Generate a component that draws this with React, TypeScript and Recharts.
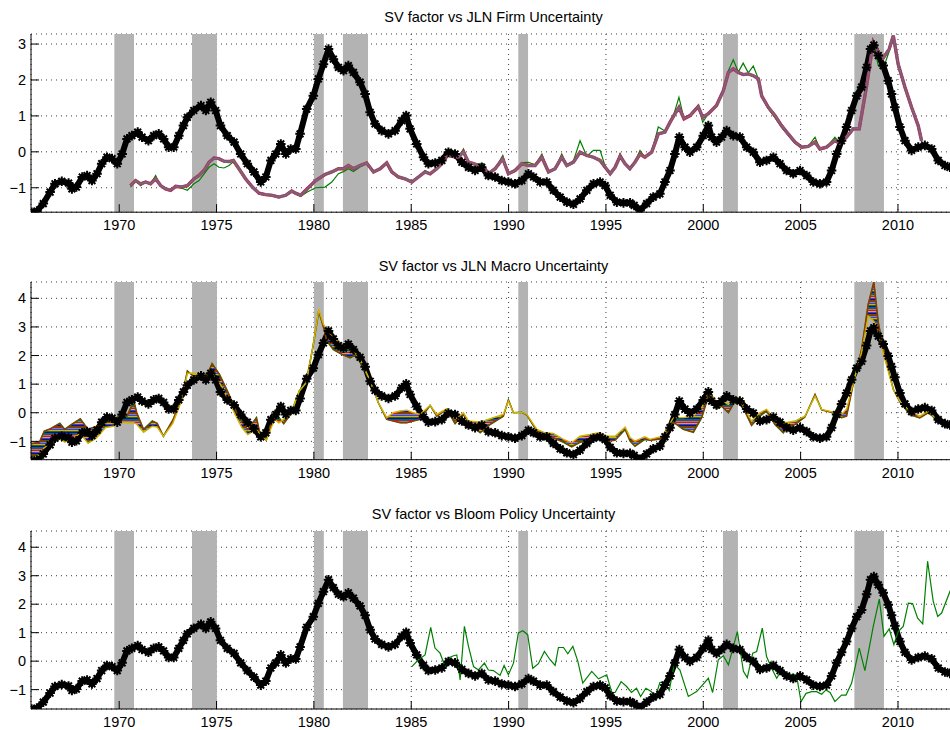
import React from 'react';
import { ComposedChart, Line, Area, XAxis, YAxis, CartesianGrid, ReferenceArea } from 'recharts';

const yearTicks = [1970, 1975, 1980, 1985, 1990, 1995, 2000, 2005, 2010];
const recessionStarts = [1969.75, 1973.74, 1980.0, 1981.49, 1990.5, 2001.01, 2007.76];
const recessionEnds = [1970.76, 1975.02, 1980.51, 1982.78, 1991.0, 2001.78, 2009.28];

// SV factor (shared by all three panels)
const svYears = [
  1965.5, 1965.77, 1966.1, 1966.45, 1966.7, 1967.05, 1967.4, 1967.57, 1967.8, 1968.1, 1968.35, 1968.6, 1968.86,
  1969.1, 1969.37, 1969.63, 1969.9, 1970.15, 1970.4, 1970.65, 1970.95, 1971.17, 1971.5, 1971.77, 1972.03, 1972.28,
  1972.54, 1972.8, 1973.06, 1973.3, 1973.5, 1973.83, 1974.2, 1974.45, 1974.7, 1974.95, 1975.2, 1975.55, 1975.9,
  1976.24, 1976.58, 1976.92, 1977.27, 1977.53, 1977.79, 1978.04, 1978.3, 1978.56, 1978.81, 1979.07, 1979.29,
  1979.63, 1979.97, 1980.23, 1980.49, 1980.75, 1981.0, 1981.26, 1981.52, 1981.77, 1982.03, 1982.37, 1982.63,
  1982.89, 1983.14, 1983.48, 1983.83, 1984.17, 1984.51, 1984.74, 1984.94, 1985.28, 1985.63, 1985.88, 1986.23,
  1986.57, 1986.91, 1987.25, 1987.6, 1987.94, 1988.28, 1988.62, 1988.96, 1989.31, 1989.65, 1989.99, 1990.33,
  1990.68, 1991.02, 1991.28, 1991.62, 1991.96, 1992.3, 1992.65, 1992.99, 1993.33, 1993.67, 1994.02, 1994.36,
  1994.7, 1994.96, 1995.22, 1995.56, 1995.9, 1996.24, 1996.45, 1996.75, 1997.09, 1997.43, 1997.77, 1998.03,
  1998.29, 1998.54, 1998.77, 1999.06, 1999.31, 1999.66, 2000.0, 2000.26, 2000.43, 2000.68, 2000.94, 2001.2,
  2001.54, 2001.88, 2002.23, 2002.57, 2002.91, 2003.25, 2003.6, 2003.94, 2004.28, 2004.62, 2004.97, 2005.31,
  2005.65, 2005.99, 2006.33, 2006.59, 2006.85, 2007.1, 2007.36, 2007.62, 2007.88, 2008.13, 2008.39, 2008.59,
  2008.76, 2008.99, 2009.24, 2009.5, 2009.67, 2009.84, 2010.1, 2010.36, 2010.7, 2011.04, 2011.38, 2011.73,
  2012.07, 2012.41, 2012.67, 2012.95,
];
const svValues = [
  -1.68, -1.65, -1.44, -1.12, -0.89, -0.82, -0.87, -1.03, -0.98, -0.7, -0.66, -0.8, -0.61,
  -0.33, -0.15, -0.19, -0.33, -0.06, 0.36, 0.45, 0.55, 0.41, 0.31, 0.45, 0.5, 0.36,
  0.13, 0.13, 0.45, 0.73, 0.96, 1.15, 1.29, 1.15, 1.38, 1.15, 0.73, 0.45, 0.27,
  -0.06, -0.33, -0.56, -0.84, -0.7, -0.24, -0.06, 0.22, -0.06, 0.08, 0.08, 0.5,
  1.19, 1.56, 2.03, 2.44, 2.86, 2.58, 2.35, 2.26, 2.4, 2.21, 1.94, 1.61,
  1.1, 0.78, 0.59, 0.5, 0.59, 0.87, 1.01, 0.64, 0.22, -0.15, -0.33, -0.31,
  -0.24, -0.01, -0.06, -0.29, -0.43, -0.52, -0.43, -0.66, -0.7, -0.8, -0.84, -0.89,
  -0.8, -0.61, -0.7, -0.84, -0.84, -1.07, -1.26, -1.4, -1.46, -1.31, -1.07, -0.89,
  -0.84, -0.94, -1.21, -1.4, -1.42, -1.42, -1.49, -1.63, -1.44, -1.26, -1.17, -0.84,
  -0.52, -0.06, 0.41, 0.13, -0.01, 0.13, 0.45, 0.73, 0.41, 0.27, 0.41, 0.59,
  0.45, 0.41, 0.13, -0.01, -0.29, -0.24, -0.15, -0.33, -0.52, -0.61, -0.52, -0.66,
  -0.84, -0.89, -0.84, -0.52, -0.06, 0.31, 0.69, 1.15, 1.56, 1.8, 2.35, 2.86,
  2.97, 2.68, 2.4, 1.98, 1.61, 1.24, 0.69, 0.31, 0.04, 0.13, 0.18, 0.08,
  -0.24, -0.38, -0.43, -0.45,
];

// JLN firm uncertainty: bundle of horizons, and the h=1 (green) line
const firmYears = [
  1970.58, 1970.84, 1971.1, 1971.36, 1971.61, 1971.87, 1972.13, 1972.38, 1972.64, 1972.9, 1973.15, 1973.5,
  1973.84, 1974.1, 1974.35, 1974.61, 1974.87, 1975.12, 1975.38, 1975.64, 1975.86, 1976.15, 1976.49, 1976.84,
  1977.18, 1977.52, 1977.86, 1978.2, 1978.55, 1978.86, 1979.06, 1979.32, 1979.66, 1980.09, 1980.57, 1980.92,
  1981.26, 1981.52, 1981.77, 1982.03, 1982.37, 1982.71, 1983.06, 1983.4, 1983.74, 1984.0, 1984.34, 1984.68,
  1985.03, 1985.37, 1985.71, 1985.97, 1986.31, 1986.57, 1986.83, 1987.17, 1987.43, 1987.68, 1987.94, 1988.2,
  1988.71, 1988.96, 1989.31, 1989.7, 1989.99, 1990.33, 1990.68, 1991.02, 1991.36, 1991.71, 1992.05, 1992.39,
  1992.73, 1992.99, 1993.33, 1993.67, 1994.02, 1994.36, 1994.7, 1994.96, 1995.22, 1995.47, 1995.73, 1995.98,
  1996.23, 1996.49, 1996.75, 1997.0, 1997.35, 1997.69, 1998.03, 1998.29, 1998.49, 1998.75, 1999.01, 1999.32,
  1999.74, 1999.97, 2000.26, 2000.68, 2001.03, 2001.29, 2001.54, 2001.8, 2002.05, 2002.31, 2002.57, 2002.83,
  2003.0, 2003.34, 2003.68, 2004.02, 2004.36, 2004.71, 2005.05, 2005.39, 2005.74, 2005.99, 2006.33, 2006.76,
  2007.02, 2007.36, 2007.7, 2008.01, 2008.39, 2008.73, 2008.99, 2009.24, 2009.55, 2009.76, 2010.01, 2010.36,
  2010.7, 2011.04, 2011.21,
];
const firmBundle = [
  -0.94, -0.8, -0.89, -0.84, -0.89, -0.75, -0.94, -1.03, -1.07, -0.96, -0.98, -0.94,
  -0.75, -0.66, -0.52, -0.29, -0.17, -0.19, -0.26, -0.27, -0.24, -0.47, -0.75, -0.98,
  -1.15, -1.19, -1.21, -1.26, -1.21, -1.09, -1.15, -1.21, -1.03, -0.8, -0.63, -0.56,
  -0.47, -0.47, -0.38, -0.47, -0.38, -0.31, -0.56, -0.47, -0.31, -0.56, -0.7, -0.75,
  -0.84, -0.7, -0.56, -0.61, -0.47, -0.33, -0.1, -0.13, -0.15, 0.0, -0.29, -0.33,
  -0.43, -0.61, -0.47, -0.19, -0.61, -0.52, -0.33, -0.38, -0.38, -0.15, -0.56, -0.47,
  -0.15, -0.38, -0.29, -0.01, -0.1, -0.15, -0.24, -0.43, -0.61, -0.43, -0.12, -0.33,
  -0.47, -0.29, -0.06, -0.15, -0.01, 0.5, 0.55, 0.82, 1.01, 1.24, 0.92, 1.01,
  1.26, 0.96, 1.06, 1.29, 1.7, 2.21, 2.31, 2.21, 2.15, 2.17, 2.12, 2.03,
  1.56, 1.24, 1.01, 0.73, 0.5, 0.27, 0.13, 0.15, 0.27, 0.08, 0.13, 0.31,
  0.24, 0.41, 0.64, 0.64, 1.84, 3.05, 2.77, 2.61, 2.86, 3.23, 2.44, 1.8,
  1.24, 0.73, 0.31,
];
const firmGreen = [
  -0.98, -0.8, -0.94, -0.84, -0.89, -0.66, -0.96, -1.03, -1.07, -0.96, -1.0, -1.07,
  -0.89, -0.8, -0.62, -0.43, -0.33, -0.43, -0.45, -0.38, -0.28, -0.5, -0.78, -1.0,
  -1.17, -1.21, -1.21, -1.26, -1.21, -1.12, -1.17, -1.24, -1.12, -1.0, -0.98, -0.84,
  -0.61, -0.55, -0.47, -0.55, -0.42, -0.33, -0.58, -0.48, -0.31, -0.58, -0.72, -0.77,
  -0.86, -0.7, -0.52, -0.61, -0.47, -0.33, -0.08, -0.12, -0.15, 0.08, -0.29, -0.35,
  -0.33, -0.63, -0.47, -0.1, -0.63, -0.52, -0.3, -0.29, -0.36, -0.06, -0.56, -0.47,
  -0.06, -0.36, -0.25, 0.31, -0.12, 0.04, 0.04, -0.4, -0.61, -0.43, -0.05, -0.33,
  -0.47, -0.29, 0.04, -0.15, 0.0, 0.69, 0.58, 0.85, 1.05, 1.52, 0.92, 1.03,
  1.3, 0.82, 1.06, 1.29, 1.72, 2.26, 2.56, 2.22, 2.47, 2.2, 2.39, 2.03,
  1.56, 1.2, 0.95, 0.68, 0.46, 0.24, 0.12, 0.15, 0.41, 0.08, 0.13, 0.41,
  0.24, 0.43, 0.66, 0.64, 1.84, 3.0, 2.4, 2.31, 2.8, 3.2, 2.35, 1.75,
  1.22, 0.68, 0.27,
];

// JLN macro uncertainty: h=1 and h=12 edges of the horizon fan
const macroYears = [
  1965.47, 1965.9, 1966.15, 1966.4, 1966.95, 1967.2, 1967.55, 1968.0, 1968.4, 1968.85, 1969.3, 1969.7,
  1970.05, 1970.4, 1970.75, 1970.9, 1971.25, 1971.7, 1971.95, 1972.27, 1972.75, 1973.2, 1973.5, 1973.85,
  1974.2, 1974.55, 1974.77, 1975.15, 1975.6, 1975.95, 1976.3, 1976.6, 1977.05, 1977.2, 1977.55, 1977.98,
  1978.2, 1978.45, 1978.8, 1979.25, 1979.6, 1979.95, 1980.25, 1980.49, 1980.66, 1981.0, 1981.43, 1981.86,
  1982.12, 1982.46, 1982.89, 1983.31, 1983.74, 1984.08, 1984.43, 1984.77, 1985.11, 1985.45, 1985.97, 1986.31,
  1986.83, 1987.25, 1987.68, 1987.94, 1988.54, 1989.05, 1989.73, 1989.99, 1990.25, 1990.68, 1990.94, 1991.45,
  1991.88, 1992.3, 1992.82, 1993.24, 1993.67, 1994.19, 1994.62, 1995.04, 1995.47, 1995.99, 1996.24, 1996.49,
  1997.0, 1997.26, 1997.94, 1998.46, 1998.97, 1999.49, 1999.92, 2000.26, 2000.68, 2000.94, 2001.29, 2001.63,
  2001.88, 2002.14, 2002.48, 2002.91, 2003.25, 2003.68, 2004.11, 2004.36, 2004.71, 2005.22, 2005.74, 2006.08,
  2006.67, 2007.1, 2007.36, 2007.7, 2008.13, 2008.47, 2008.76, 2008.99, 2009.33, 2009.76, 2010.1, 2010.61,
  2011.12, 2011.55, 2011.89,
];
const macroH1 = [
  -1.08, -1.03, -0.64, -0.58, -0.37, -0.58, -0.41, -0.21, -0.58, -0.47, -0.33, -0.29,
  -0.06, -0.12, 0.41, 0.0, -0.58, -0.29, -0.37, -0.82, -0.26, 0.47, 1.46, 1.25,
  1.28, 1.38, 1.72, 1.34, 0.7, 0.12, -0.29, -0.58, -0.17, -0.64, -0.96, 0.06,
  -0.17, -0.38, -0.06, 0.76, 1.05, 2.3, 3.55, 3.0, 2.51, 2.21, 2.04, 1.92,
  2.02, 1.69, 1.11, 0.35, -0.23, -0.29, -0.35, -0.35, -0.29, -0.23, 0.26, -0.12,
  0.12, -0.38, -0.06, -0.35, -0.7, -0.41, -0.12, 0.45, 0.0, 0.02, -0.08, -0.64,
  -0.79, -0.87, -1.03, -1.19, -1.03, -0.96, -0.91, -0.99, -0.96, -0.58, -0.99, -1.17,
  -0.93, -0.96, -0.91, -0.33, -0.58, -0.68, -0.17, 0.58, 0.14, 0.23, 0.0, 0.41,
  0.48, 0.05, -0.44, -0.12, 0.06, -0.41, -0.7, -0.47, -0.41, -0.15, 0.64, 0.1,
  0.0, -0.17, -0.12, 1.0, 2.21, 3.79, 4.57, 3.15, 1.98, 0.82, 0.38, -0.06,
  -0.18, 0.0, -0.17,
];
const macroH12 = [
  -1.62, -1.46, -1.22, -1.11, -0.91, -1.03, -0.91, -0.73, -1.07, -0.87, -0.52, -0.47,
  -0.33, -0.35, -0.35, -0.4, -0.68, -0.47, -0.5, -0.82, -0.37, 0.41, 1.38, 1.38,
  1.22, 1.3, 1.38, 1.05, 0.47, -0.06, -0.52, -0.76, -0.58, -0.72, -0.96, -0.23,
  -0.35, -0.23, -0.06, 0.76, 1.05, 2.3, 3.61, 3.09, 2.91, 2.62, 2.39, 2.21,
  2.1, 1.75, 1.11, 0.35, -0.17, 0.0, 0.06, 0.09, 0.0, -0.06, 0.26, -0.06,
  0.14, -0.23, 0.0, -0.29, -0.33, -0.21, -0.06, 0.41, 0.0, 0.02, -0.06, -0.58,
  -0.7, -0.72, -0.93, -1.05, -0.82, -0.76, -0.7, -0.82, -0.82, -0.5, -0.87, -0.99,
  -0.84, -0.93, -0.82, -0.17, -0.17, -0.12, 0.17, 0.7, 0.41, 0.41, 0.29, 0.52,
  0.52, 0.12, -0.29, 0.0, 0.12, -0.23, -0.35, -0.33, -0.29, -0.12, 0.58, 0.12,
  0.02, -0.06, 0.12, 1.05, 2.1, 3.38, 3.2, 2.8, 1.86, 0.82, 0.41, 0.06,
  -0.12, 0.06, -0.17,
];

// Bloom policy uncertainty
const bloomYears = [
  1985.03, 1985.37, 1985.71, 1986.0, 1986.22, 1986.48, 1986.74, 1986.91, 1987.17, 1987.34, 1987.51, 1987.73,
  1987.94, 1988.2, 1988.45, 1988.76, 1988.96, 1989.22, 1989.56, 1989.77, 1989.99, 1990.25, 1990.5, 1990.73,
  1990.98, 1991.24, 1991.53, 1991.84, 1992.13, 1992.39, 1992.56, 1992.82, 1993.04, 1993.3, 1993.55, 1993.81,
  1994.27, 1994.62, 1995.04, 1995.3, 1995.47, 1995.78, 1996.06, 1996.31, 1996.57, 1996.78, 1997.05, 1997.34,
  1997.5, 1997.77, 1998.03, 1998.25, 1998.51, 1998.8, 1999.23, 1999.66, 2000.26, 2000.48, 2000.77, 2001.03,
  2001.29, 2001.75, 2002.06, 2002.26, 2002.54, 2002.74, 2003.03, 2003.25, 2003.51, 2003.77, 2003.99, 2004.28,
  2004.62, 2004.8, 2005.02, 2005.28, 2005.57, 2005.82, 2006.08, 2006.3, 2006.51, 2006.76, 2007.1, 2007.33,
  2007.62, 2008.01, 2008.3, 2008.73, 2009.04, 2009.28, 2009.55, 2009.79, 2010.01, 2010.27, 2010.53, 2010.75,
  2011.01, 2011.27, 2011.52, 2011.81, 2012.04, 2012.24, 2012.67, 2012.95,
];
const bloomValues = [
  -0.19, 0.05, 0.22, 1.19, 0.46, 0.28, -0.19, 0.11, 0.19, 0.22, -0.66, 1.22,
  0.52, -0.19, -0.31, -0.07, -0.31, -0.33, -0.5, -0.15, -0.48, -0.07, 0.99, 1.07,
  0.93, -0.25, -0.09, 0.34, 0.05, -0.15, 0.48, 0.48, 0.26, 0.52, 0.01, -0.77,
  -0.36, -0.62, -0.48, -1.1, -1.1, -0.72, -0.89, -1.1, -0.95, -1.24, -0.95, -1.07,
  -1.34, -0.75, -0.72, -1.03, -0.11, -0.31, -1.24, -1.07, -0.6, -1.1, 0.05, 0.19,
  -0.13, 1.04, -0.36, -0.58, 0.28, 0.34, 1.16, 0.16, -0.25, -0.6, -0.34, -0.52,
  -0.45, -0.54, -1.42, -1.13, -1.07, -1.07, -1.16, -1.01, -1.1, -1.42, -1.19, -1.19,
  -0.77, 0.46, -0.33, 1.22, 2.18, 0.87, 1.13, 0.58, 1.04, 1.22, 2.04, 2.02,
  1.51, 1.31, 3.51, 2.1, 1.57, 1.69, 2.45, 2.8,
];

const svData = svYears.map((year, i) => ({ year, sv: svValues[i] }));
const firmData = firmYears.map((year, i) => ({ year, bundle: firmBundle[i], green: firmGreen[i] }));
const macroData = macroYears.map((year, i) => ({
  year,
  h1: macroH1[i],
  h12: macroH12[i],
  fan: [macroH12[i], macroH1[i]],
}));
const bloomData = bloomYears.map((year, i) => ({ year, bloom: bloomValues[i] }));

const FONT = '"Liberation Sans", Arial, Helvetica, sans-serif';
const X_DOMAIN = [1965.47, 2013.0];
const CHART_W = 960;
// horizon colours, top to bottom of the macro fan
const fanColors = ['#008000', '#ff0000', '#00bfbf', '#bf00bf', '#bfbf00', '#505050', '#0000ff'];

const fmtY = (v: number) => (v < 0 ? `\u2212${Math.abs(v)}` : `${v}`);

const StarDot = (props: any) => {
  const { cx, cy, index } = props;
  if (cx == null || cy == null) return <g key={`s-${index}`} />;
  const r = 4.8;
  const d = r * 0.7071;
  return (
    <path
      key={`s-${index}`}
      d={`M${cx - r},${cy}H${cx + r}M${cx},${cy - r}V${cy + r}M${cx - d},${cy - d}L${cx + d},${cy + d}M${cx - d},${cy + d}L${cx + d},${cy - d}`}
      stroke="#000"
      strokeWidth={2}
      fill="none"
    />
  );
};

interface PanelProps {
  plotTop: number;
  plotHeight: number;
  titleY: number;
  title: string;
  yDomain: number[];
  yTicks: number[];
  children: React.ReactNode;
}

function Panel({ plotTop, plotHeight, titleY, title, yDomain, yTicks, children }: PanelProps) {
  const mTop = 10;
  const axisH = 30;
  return (
    <>
      <div
        style={{
          position: 'absolute',
          left: 31,
          width: 925,
          top: titleY - 8,
          height: 16,
          lineHeight: '16px',
          textAlign: 'center',
          fontSize: 14.5,
          color: '#000',
        }}
      >
        {title}
      </div>
      <div style={{ position: 'absolute', left: 0, top: plotTop - mTop }}>
        <ComposedChart
          width={CHART_W}
          height={mTop + plotHeight + axisH}
          margin={{ top: mTop, right: 3.6, bottom: 0, left: 0 }}
        >
          <defs>
            <pattern id={`fan-${Math.round(plotTop)}`} patternUnits="userSpaceOnUse" width={8} height={fanColors.length}>
              {fanColors.map((c, i) => (
                <rect key={c} x={0} y={i} width={8} height={1} fill={c} />
              ))}
            </pattern>
          </defs>
          <CartesianGrid stroke="#3a3a3a" strokeDasharray="1 4" />
          {recessionStarts.map((s, i) => (
            <ReferenceArea
              key={s}
              x1={s}
              x2={recessionEnds[i]}
              fill="#b3b3b3"
              fillOpacity={1}
              stroke="none"
              ifOverflow="hidden"
            />
          ))}
          <XAxis
            dataKey="year"
            type="number"
            domain={X_DOMAIN}
            ticks={yearTicks}
            allowDataOverflow
            height={axisH}
            tickSize={-8}
            tickMargin={16}
            axisLine={{ stroke: '#000' }}
            tickLine={{ stroke: '#000' }}
            tick={{ fill: '#000', fontSize: 14.5, fontFamily: FONT }}
          />
          <XAxis
            xAxisId="top"
            orientation="top"
            type="number"
            domain={X_DOMAIN}
            ticks={yearTicks}
            allowDataOverflow
            height={0}
            tickSize={-8}
            tickFormatter={() => ''}
            axisLine={{ stroke: '#000' }}
            tickLine={{ stroke: '#000' }}
          />
          <YAxis
            type="number"
            domain={yDomain}
            ticks={yTicks}
            allowDataOverflow
            width={31}
            tickSize={-8}
            tickMargin={13}
            tickFormatter={fmtY}
            axisLine={{ stroke: '#000' }}
            tickLine={{ stroke: '#000' }}
            tick={{ fill: '#000', fontSize: 14.5, fontFamily: FONT }}
          />
          <Line
            data={svData}
            dataKey="sv"
            type="linear"
            stroke="#000"
            strokeWidth={6}
            strokeLinejoin="round"
            dot={StarDot}
            activeDot={false}
            isAnimationActive={false}
          />
          {children}
        </ComposedChart>
      </div>
    </>
  );
}

export default function App() {
  return (
    <div
      style={{
        position: 'fixed',
        left: 0,
        top: 0,
        width: 950,
        height: 730,
        overflow: 'hidden',
        background: '#fff',
        fontFamily: FONT,
      }}
    >
      <Panel
        plotTop={33.5}
        plotHeight={178.2}
        titleY={16.7}
        title="SV factor vs JLN Firm Uncertainty"
        yDomain={[-1.68, 3.28]}
        yTicks={[-1, 0, 1, 2, 3]}
      >
        <Line data={firmData} dataKey="green" stroke="#008000" strokeWidth={1.2} dot={false} activeDot={false} isAnimationActive={false} />
        <Line data={firmData} dataKey="bundle" stroke="#ff0000" strokeWidth={3.4} dot={false} activeDot={false} isAnimationActive={false} />
        <Line data={firmData} dataKey="bundle" stroke="#00bfbf" strokeWidth={2.6} dot={false} activeDot={false} isAnimationActive={false} />
        <Line data={firmData} dataKey="bundle" stroke="#bf00bf" strokeWidth={2.1} dot={false} activeDot={false} isAnimationActive={false} />
        <Line data={firmData} dataKey="bundle" stroke="#7d6e58" strokeWidth={1.5} dot={false} activeDot={false} isAnimationActive={false} />
      </Panel>
      <Panel
        plotTop={282.3}
        plotHeight={177.7}
        titleY={265.7}
        title="SV factor vs JLN Macro Uncertainty"
        yDomain={[-1.64, 4.57]}
        yTicks={[-1, 0, 1, 2, 3, 4]}
      >
        <Area data={macroData} dataKey="fan" type="linear" stroke="none" fill="url(#fan-282)" fillOpacity={1} isAnimationActive={false} activeDot={false} />
        <Line data={macroData} dataKey="h1" stroke="#008000" strokeWidth={1.6} dot={false} activeDot={false} isAnimationActive={false} />
        <Line data={macroData} dataKey="h1" stroke="#ff0000" strokeWidth={0.8} dot={false} activeDot={false} isAnimationActive={false} />
        <Line data={macroData} dataKey="h12" stroke="#d4b000" strokeWidth={1.4} dot={false} activeDot={false} isAnimationActive={false} />
      </Panel>
      <Panel
        plotTop={531}
        plotHeight={178}
        titleY={514}
        title="SV factor vs Bloom Policy Uncertainty"
        yDomain={[-1.68, 4.57]}
        yTicks={[-1, 0, 1, 2, 3, 4]}
      >
        <Line data={bloomData} dataKey="bloom" stroke="#008000" strokeWidth={1.2} dot={false} activeDot={false} isAnimationActive={false} />
      </Panel>
    </div>
  );
}
